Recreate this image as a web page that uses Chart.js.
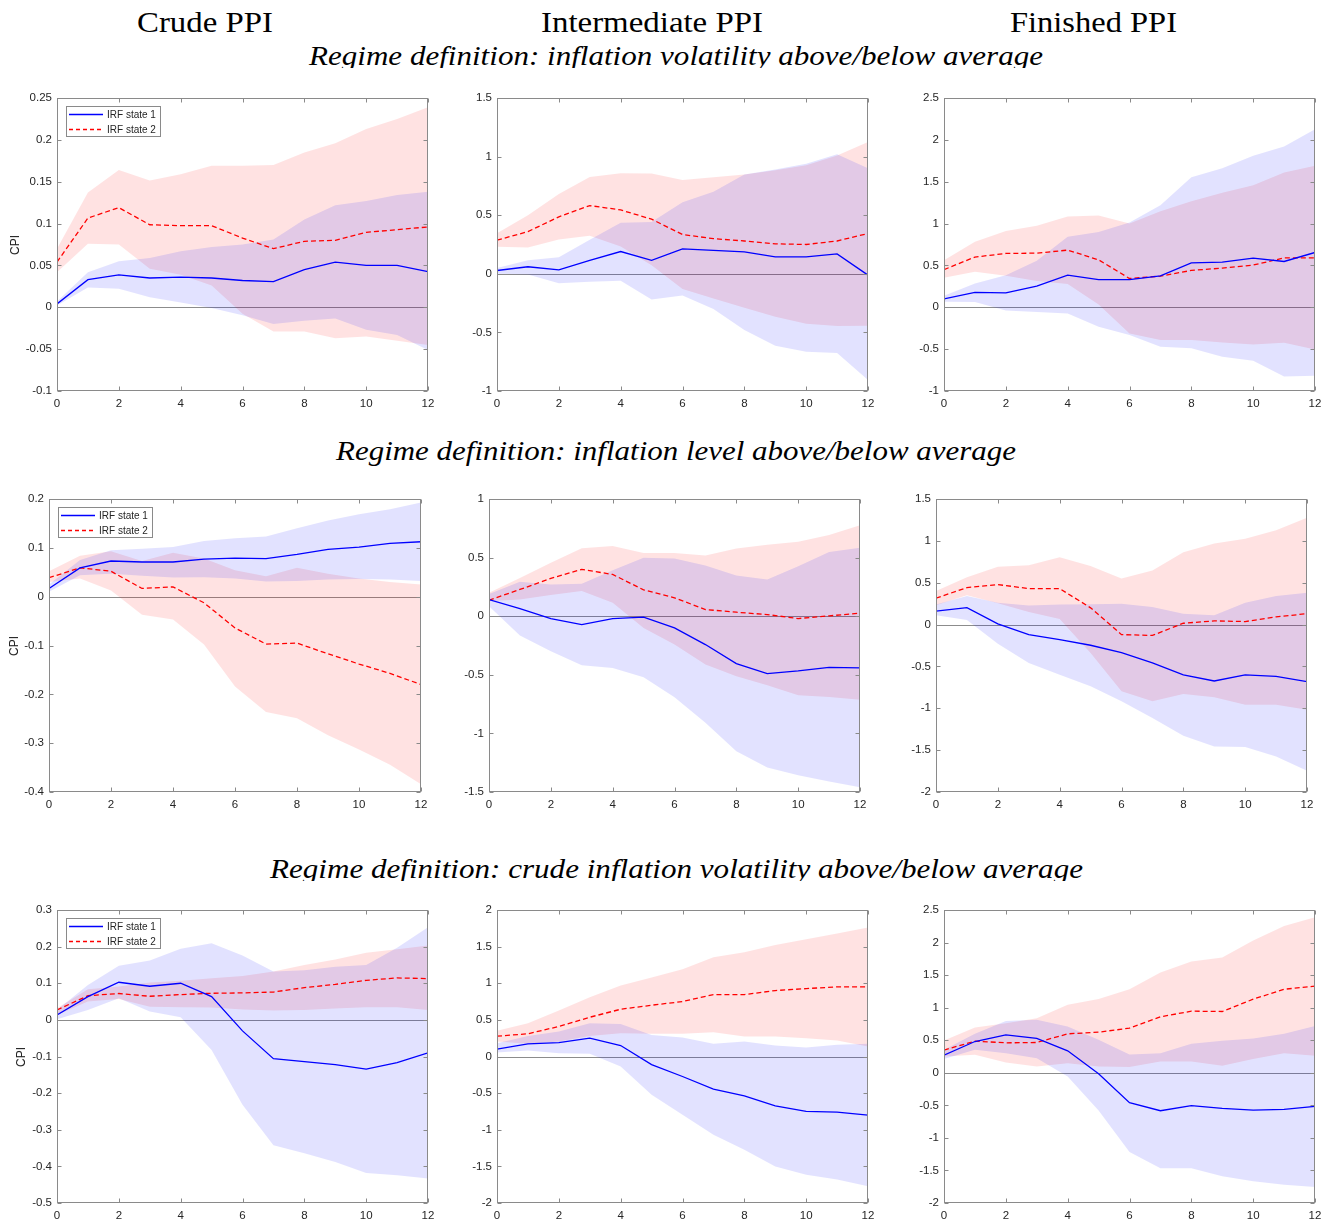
<!DOCTYPE html>
<html><head><meta charset="utf-8">
<script src="https://cdn.jsdelivr.net/npm/chart.js@4/dist/chart.umd.min.js"></script>
<style>
html,body{margin:0;padding:0;background:#fff}
body{width:1332px;height:1220px;position:relative;overflow:hidden}
.txt{position:absolute;white-space:nowrap;font-family:"Liberation Serif","Times New Roman",serif;color:#000;transform-origin:0 0}
.clip{position:absolute;left:0;width:1332px;overflow:hidden}
.ylab{position:absolute;font-family:"Liberation Sans",Arial,sans-serif;font-size:12px;color:#262626;white-space:nowrap;transform:translate(-50%,-50%) rotate(-90deg)}
canvas{position:absolute}
</style></head>
<body>
<script>
// ---------------- DATA ----------------
const horizons = [0,1,2,3,4,5,6,7,8,9,10,11,12];
const xTicks = [0,2,4,6,8,10,12];
const seriesLabels = ['IRF state 1','IRF state 2'];
const columnTitles = ['Crude PPI','Intermediate PPI','Finished PPI'];
const regimeTitles = [
  'Regime definition: inflation volatility above/below average',
  'Regime definition: inflation level above/below average',
  'Regime definition: crude inflation volatility above/below average'
];
const yAxisLabel = 'CPI';

// Row 1: inflation volatility regime
const volCrude_s1   = [0.004,0.033,0.0386,0.035,0.036,0.035,0.032,0.0306,0.045,0.054,0.050,0.050,0.0426];
const volCrude_s1hi = [0.007,0.042,0.055,0.059,0.067,0.072,0.075,0.081,0.105,0.122,0.127,0.134,0.138];
const volCrude_s1lo = [0.002,0.0235,0.022,0.012,0.0056,-0.001,-0.0095,-0.02,-0.016,-0.0135,-0.0267,-0.033,-0.051];
const volCrude_s2   = [0.054,0.1066,0.119,0.0986,0.0975,0.0975,0.0827,0.070,0.0788,0.080,0.0895,0.0927,0.096];
const volCrude_s2hi = [0.07,0.137,0.164,0.1515,0.159,0.169,0.169,0.17,0.185,0.196,0.213,0.225,0.239];
const volCrude_s2lo = [0.042,0.076,0.075,0.046,0.039,0.026,-0.0076,-0.029,-0.029,-0.037,-0.035,-0.04,-0.045];
const volCrude_yTicks = [-0.1,-0.05,0,0.05,0.1,0.15,0.2,0.25];

const volInter_s1   = [0.028,0.06,0.034,0.114,0.19,0.114,0.213,0.2,0.1875,0.145,0.145,0.17,-0.011];
const volInter_s1hi = [0.05,0.116,0.142,0.29,0.435,0.443,0.61,0.7,0.847,0.89,0.94,1.02,0.9];
const volInter_s1lo = [0.0,-0.006,-0.08,-0.068,-0.06,-0.22,-0.185,-0.3,-0.48,-0.614,-0.665,-0.676,-0.906];
const volInter_s2   = [0.287,0.36,0.486,0.582,0.545,0.466,0.335,0.30,0.28,0.256,0.25,0.28,0.344];
const volInter_s2hi = [0.347,0.5,0.68,0.827,0.858,0.855,0.8,0.824,0.847,0.884,0.926,1.01,1.125];
const volInter_s2lo = [0.23,0.224,0.293,0.324,0.233,0.074,-0.13,-0.21,-0.29,-0.366,-0.426,-0.446,-0.443];
const volInter_yTicks = [-1,-0.5,0,0.5,1,1.5];

const volFin_s1   = [0.10,0.177,0.173,0.253,0.384,0.33,0.33,0.376,0.53,0.54,0.587,0.547,0.655];
const volFin_s1hi = [0.137,0.285,0.384,0.555,0.842,0.90,1.013,1.22,1.553,1.66,1.81,1.92,2.126];
const volFin_s1lo = [0.066,0.062,-0.037,-0.057,-0.073,-0.232,-0.33,-0.47,-0.49,-0.59,-0.64,-0.826,-0.818];
const volFin_s2   = [0.45,0.6,0.643,0.647,0.683,0.567,0.344,0.372,0.44,0.468,0.504,0.59,0.59];
const volFin_s2hi = [0.563,0.782,0.91,0.973,1.085,1.097,1.0,1.148,1.267,1.367,1.458,1.61,1.69];
const volFin_s2lo = [0.353,0.424,0.376,0.313,0.277,0.034,-0.312,-0.39,-0.39,-0.42,-0.444,-0.424,-0.503];
const volFin_yTicks = [-1,-0.5,0,0.5,1,1.5,2,2.5];

// Row 2: inflation level regime
const lvlCrude_s1   = [0.0168,0.059,0.073,0.071,0.071,0.077,0.079,0.078,0.0866,0.097,0.1015,0.109,0.1125];
const lvlCrude_s1hi = [0.025,0.075,0.095,0.098,0.1015,0.114,0.1195,0.123,0.14,0.156,0.169,0.179,0.193];
const lvlCrude_s1lo = [0.01,0.044,0.047,0.043,0.039,0.040,0.037,0.031,0.032,0.035,0.036,0.035,0.032];
const lvlCrude_s2   = [0.0388,0.059,0.052,0.0168,0.02,-0.0125,-0.064,-0.097,-0.095,-0.117,-0.138,-0.157,-0.18];
const lvlCrude_s2hi = [0.052,0.084,0.093,0.073,0.09,0.078,0.054,0.042,0.059,0.047,0.037,0.03,0.025];
const lvlCrude_s2lo = [0.03,0.037,0.0128,-0.037,-0.047,-0.098,-0.184,-0.236,-0.249,-0.284,-0.313,-0.344,-0.384];
const lvlCrude_yTicks = [-0.4,-0.3,-0.2,-0.1,0,0.1,0.2];

const lvlInter_s1   = [0.142,0.065,-0.02,-0.071,-0.02,-0.0085,-0.1,-0.242,-0.404,-0.49,-0.467,-0.436,-0.441];
const lvlInter_s1hi = [0.19,0.293,0.27,0.276,0.393,0.498,0.493,0.433,0.347,0.313,0.427,0.547,0.584];
const lvlInter_s1lo = [0.085,-0.165,-0.3,-0.419,-0.441,-0.521,-0.692,-0.91,-1.153,-1.29,-1.358,-1.41,-1.46];
const lvlInter_s2   = [0.137,0.228,0.322,0.4,0.356,0.225,0.157,0.057,0.034,0.014,-0.02,0.003,0.026];
const lvlInter_s2hi = [0.2,0.327,0.455,0.58,0.598,0.54,0.54,0.518,0.578,0.609,0.635,0.692,0.777];
const lvlInter_s2lo = [0.128,0.142,0.18,0.214,0.114,-0.1,-0.242,-0.413,-0.512,-0.589,-0.675,-0.689,-0.712];
const lvlInter_yTicks = [-1.5,-1,-0.5,0,0.5,1];

const lvlFin_s1   = [0.16,0.203,0.008,-0.12,-0.18,-0.247,-0.335,-0.458,-0.602,-0.674,-0.602,-0.618,-0.682];
const lvlFin_s1hi = [0.24,0.34,0.26,0.227,0.24,0.243,0.25,0.21,0.128,0.112,0.26,0.34,0.38];
const lvlFin_s1lo = [0.112,0.056,-0.23,-0.458,-0.598,-0.737,-0.917,-1.116,-1.327,-1.455,-1.463,-1.575,-1.745];
const lvlFin_s2   = [0.315,0.442,0.478,0.43,0.43,0.2,-0.12,-0.13,0.016,0.044,0.036,0.092,0.13];
const lvlFin_s2hi = [0.4,0.566,0.69,0.71,0.805,0.70,0.55,0.645,0.865,0.968,1.024,1.128,1.275];
const lvlFin_s2lo = [0.23,0.35,0.255,0.15,0.068,-0.34,-0.797,-0.917,-0.83,-0.869,-0.957,-0.957,-1.016];
const lvlFin_yTicks = [-2,-1.5,-1,-0.5,0,0.5,1,1.5];

// Row 3: crude inflation volatility regime
const cvCrude_s1   = [0.0136,0.0636,0.1027,0.0918,0.1,0.0636,-0.03,-0.106,-0.114,-0.122,-0.1345,-0.117,-0.09];
const cvCrude_s1hi = [0.027,0.095,0.148,0.162,0.194,0.209,0.176,0.132,0.1355,0.145,0.15,0.197,0.2527];
const cvCrude_s1lo = [0.002,0.027,0.059,0.023,0.007,-0.082,-0.232,-0.342,-0.364,-0.388,-0.418,-0.4245,-0.433];
const cvCrude_s2   = [0.027,0.066,0.072,0.0645,0.069,0.0727,0.0736,0.076,0.088,0.097,0.108,0.1145,0.1127];
const cvCrude_s2hi = [0.032,0.0836,0.091,0.102,0.107,0.1136,0.12,0.132,0.15,0.165,0.1836,0.193,0.203];
const cvCrude_s2lo = [0.0136,0.05,0.057,0.036,0.0345,0.0336,0.028,0.0255,0.027,0.031,0.0345,0.0345,0.027];
const cvCrude_yTicks = [-0.5,-0.4,-0.3,-0.2,-0.1,0,0.1,0.2,0.3];

const cvInter_s1   = [0.1,0.173,0.19,0.25,0.15,-0.11,-0.273,-0.445,-0.536,-0.673,-0.75,-0.76,-0.8];
const cvInter_s1hi = [0.18,0.28,0.34,0.455,0.445,0.295,0.26,0.173,0.205,0.15,0.123,0.16,0.173];
const cvInter_s1lo = [0.055,0.082,0.045,0.036,-0.136,-0.523,-0.795,-1.068,-1.273,-1.5,-1.614,-1.68,-1.773];
const cvInter_s2   = [0.277,0.31,0.41,0.536,0.645,0.7,0.75,0.845,0.845,0.9,0.927,0.95,0.95];
const cvInter_s2hi = [0.35,0.455,0.627,0.81,0.968,1.077,1.19,1.355,1.423,1.523,1.6,1.68,1.76];
const cvInter_s2lo = [0.205,0.173,0.205,0.28,0.318,0.31,0.31,0.332,0.273,0.273,0.25,0.218,0.136];
const cvInter_yTicks = [-2,-1.5,-1,-0.5,0,0.5,1,1.5,2];

const cvFin_s1   = [0.271,0.48,0.583,0.527,0.337,-0.015,-0.46,-0.583,-0.506,-0.547,-0.573,-0.562,-0.516];
const cvFin_s1hi = [0.353,0.598,0.797,0.813,0.71,0.506,0.281,0.30,0.445,0.49,0.527,0.598,0.72];
const cvFin_s1lo = [0.21,0.353,0.30,0.225,-0.056,-0.578,-1.217,-1.467,-1.467,-1.59,-1.666,-1.718,-1.753];
const cvFin_s2   = [0.348,0.486,0.46,0.465,0.598,0.624,0.685,0.859,0.946,0.941,1.13,1.283,1.33];
const cvFin_s2hi = [0.496,0.695,0.762,0.838,1.043,1.135,1.283,1.539,1.708,1.769,2.03,2.255,2.388];
const cvFin_s2lo = [0.25,0.276,0.158,0.097,0.148,0.097,0.087,0.174,0.174,0.107,0.21,0.30,0.26];
const cvFin_yTicks = [-2,-1.5,-1,-0.5,0,0.5,1,1.5,2,2.5];

// ---------------- PANELS (data refs) ----------------
const panels = [
  {s1:volCrude_s1,s1hi:volCrude_s1hi,s1lo:volCrude_s1lo,s2:volCrude_s2,s2hi:volCrude_s2hi,s2lo:volCrude_s2lo,yt:volCrude_yTicks,legend:true,ylabel:true},
  {s1:volInter_s1,s1hi:volInter_s1hi,s1lo:volInter_s1lo,s2:volInter_s2,s2hi:volInter_s2hi,s2lo:volInter_s2lo,yt:volInter_yTicks},
  {s1:volFin_s1,s1hi:volFin_s1hi,s1lo:volFin_s1lo,s2:volFin_s2,s2hi:volFin_s2hi,s2lo:volFin_s2lo,yt:volFin_yTicks},
  {s1:lvlCrude_s1,s1hi:lvlCrude_s1hi,s1lo:lvlCrude_s1lo,s2:lvlCrude_s2,s2hi:lvlCrude_s2hi,s2lo:lvlCrude_s2lo,yt:lvlCrude_yTicks,legend:true,ylabel:true},
  {s1:lvlInter_s1,s1hi:lvlInter_s1hi,s1lo:lvlInter_s1lo,s2:lvlInter_s2,s2hi:lvlInter_s2hi,s2lo:lvlInter_s2lo,yt:lvlInter_yTicks},
  {s1:lvlFin_s1,s1hi:lvlFin_s1hi,s1lo:lvlFin_s1lo,s2:lvlFin_s2,s2hi:lvlFin_s2hi,s2lo:lvlFin_s2lo,yt:lvlFin_yTicks},
  {s1:cvCrude_s1,s1hi:cvCrude_s1hi,s1lo:cvCrude_s1lo,s2:cvCrude_s2,s2hi:cvCrude_s2hi,s2lo:cvCrude_s2lo,yt:cvCrude_yTicks,legend:true,ylabel:true},
  {s1:cvInter_s1,s1hi:cvInter_s1hi,s1lo:cvInter_s1lo,s2:cvInter_s2,s2hi:cvInter_s2hi,s2lo:cvInter_s2lo,yt:cvInter_yTicks},
  {s1:cvFin_s1,s1hi:cvFin_s1hi,s1lo:cvFin_s1lo,s2:cvFin_s2,s2hi:cvFin_s2hi,s2lo:cvFin_s2lo,yt:cvFin_yTicks}
];

// ---------------- LAYOUT (positions / styles) ----------------
const boxes = [
  {L:57,T:98,R:428,B:391,cpiX:15},
  {L:497,T:98,R:868,B:391},
  {L:944,T:98,R:1315,B:391},
  {L:49,T:499,R:421,B:792,cpiX:14},
  {L:489,T:499,R:860,B:792},
  {L:936,T:499,R:1307,B:792},
  {L:57,T:910,R:428,B:1203,cpiX:21},
  {L:497,T:910,R:868,B:1203},
  {L:944,T:910,R:1315,B:1203}
];
const colTitlePos = [{cx:205,w:136},{cx:652,w:222},{cx:1093.5,w:167}];
const rowTitlePos = [{cx:676,w:734,base:66,clip:68},{cx:676,w:680,base:461,clip:null},{cx:676.5,w:813,base:879,clip:881}];

const BLUE='#0000ff', RED='#ff0000';
const BLUE_FILL='rgba(0,0,255,0.115)', RED_FILL='rgba(255,0,0,0.115)';
const FRAME='#8a8a8a', TICKTXT='#262626', ZERO='#8c8c8c';
const SANS='"Liberation Sans", Arial, sans-serif';

function placeText(str, cx, base, fs, italic, targetW, clipBottom){
  const d=document.createElement('div');
  d.className='txt'; d.textContent=str;
  d.style.fontSize=fs+'px'; d.style.lineHeight=fs+'px';
  if(italic) d.style.fontStyle='italic';
  let host=document.body, offY=0;
  if(clipBottom!=null){
    const c=document.createElement('div'); c.className='clip';
    const topC=base-fs*1.2; c.style.top=topC+'px'; c.style.height=(clipBottom-topC)+'px';
    document.body.appendChild(c); host=c; offY=topC;
  }
  host.appendChild(d);
  const w0=d.getBoundingClientRect().width;
  d.style.transform='scaleX('+(targetW/w0)+')';
  d.style.left=(cx-targetW/2)+'px';
  d.style.top=(base-0.8375*fs-offY)+'px';
}

columnTitles.forEach((t,i)=>placeText(t,colTitlePos[i].cx,32,29,false,colTitlePos[i].w,null));
regimeTitles.forEach((t,i)=>placeText(t,rowTitlePos[i].cx,rowTitlePos[i].base,27,true,rowTitlePos[i].w,rowTitlePos[i].clip));

const fmt = v => String(parseFloat(Number(v).toFixed(4)));
const pts = arr => horizons.map((h,i)=>({x:h,y:arr[i]}));

const framePlugin = {
  id:'frame',
  beforeDatasetsDraw(chart){
    const {ctx,chartArea:a,scales:{y}}=chart;
    const yz=Math.round(y.getPixelForValue(0))+0.5;
    ctx.save(); ctx.strokeStyle=ZERO; ctx.lineWidth=1;
    ctx.beginPath(); ctx.moveTo(a.left,yz); ctx.lineTo(a.right,yz); ctx.stroke(); ctx.restore();
  },
  afterDraw(chart){
    const {ctx,chartArea:a,scales:{x,y}}=chart;
    const L=a.left+0.5,R=a.right-0.5,T=a.top+0.5,B=a.bottom-0.5, tl=4;
    ctx.save(); ctx.strokeStyle=FRAME; ctx.lineWidth=1;
    ctx.strokeRect(L,T,R-L,B-T);
    ctx.beginPath();
    x.ticks.forEach(t=>{const px=Math.round(x.getPixelForValue(t.value))+0.5;
      ctx.moveTo(px,B); ctx.lineTo(px,B-tl); ctx.moveTo(px,T); ctx.lineTo(px,T+tl);});
    y.ticks.forEach(t=>{const py=Math.round(y.getPixelForValue(t.value))+0.5;
      ctx.moveTo(L,py); ctx.lineTo(L+tl,py); ctx.moveTo(R,py); ctx.lineTo(R-tl,py);});
    ctx.stroke();
    const opts=chart.options.plugins.frame||{};
    if(opts.legend){
      const bx=Math.round(a.left)+9.5, by=Math.round(a.top)+8.5, bw=94, bh=30;
      ctx.fillStyle='#fff'; ctx.fillRect(bx,by,bw,bh);
      ctx.strokeStyle=FRAME; ctx.strokeRect(bx,by,bw,bh);
      const rows=[{c:BLUE,dash:[]},{c:RED,dash:[4,3]}];
      rows.forEach((r,i)=>{
        const yy=by+8+i*15;
        ctx.strokeStyle=r.c; ctx.lineWidth=1.3; ctx.setLineDash(r.dash);
        ctx.beginPath(); ctx.moveTo(bx+2.5,yy); ctx.lineTo(bx+36.5,yy); ctx.stroke();
        ctx.setLineDash([]);
        ctx.fillStyle=TICKTXT; ctx.font='10px '+SANS; ctx.textBaseline='middle'; ctx.textAlign='left';
        ctx.fillText(seriesLabels[i],bx+40.5,yy+0.5);
      });
    }
    ctx.restore();
  }
};

const PADL=50,PADT=12,PADR=16,PADB=28;
panels.forEach((p,i)=>{
  const b=boxes[i];
  const cv=document.createElement('canvas');
  const W=(b.R-b.L)+PADL+PADR, H=(b.B-b.T)+PADT+PADB;
  cv.width=W; cv.height=H;
  cv.style.left=(b.L-PADL)+'px'; cv.style.top=(b.T-PADT)+'px';
  cv.style.width=W+'px'; cv.style.height=H+'px';
  document.body.appendChild(cv);
  if(p.ylabel){
    const d=document.createElement('div'); d.className='ylab'; d.textContent=yAxisLabel;
    d.style.left=b.cpiX+'px'; d.style.top=((b.T+b.B)/2)+'px';
    document.body.appendChild(d);
  }
  const yt=p.yt;
  new Chart(cv,{
    type:'line',
    data:{datasets:[
      {label:seriesLabels[0],data:pts(p.s1),borderColor:BLUE,borderWidth:1.3,pointRadius:0,fill:false,tension:0},
      {label:seriesLabels[1],data:pts(p.s2),borderColor:RED,borderWidth:1.3,borderDash:[5,3],pointRadius:0,fill:false,tension:0},
      {label:'s1 upper',data:pts(p.s1hi),borderColor:'rgba(0,0,0,0)',borderWidth:1,pointRadius:0,backgroundColor:BLUE_FILL,fill:'+1',tension:0},
      {label:'s1 lower',data:pts(p.s1lo),borderColor:'rgba(0,0,0,0)',borderWidth:1,pointRadius:0,fill:false,tension:0},
      {label:'s2 upper',data:pts(p.s2hi),borderColor:'rgba(0,0,0,0)',borderWidth:1,pointRadius:0,backgroundColor:RED_FILL,fill:'+1',tension:0},
      {label:'s2 lower',data:pts(p.s2lo),borderColor:'rgba(0,0,0,0)',borderWidth:1,pointRadius:0,fill:false,tension:0}
    ]},
    options:{
      responsive:false, animation:false, devicePixelRatio:1,
      layout:{padding:{left:0,top:PADT,right:PADR,bottom:0}},
      plugins:{legend:{display:false},tooltip:{enabled:false},frame:{legend:!!p.legend}},
      scales:{
        x:{type:'linear',min:0,max:12,
          afterBuildTicks:s=>{s.ticks=xTicks.map(v=>({value:v}));},
          afterFit:s=>{s.height=PADB;},
          grid:{display:false,drawTicks:false},border:{display:false},
          ticks:{padding:6,autoSkip:false,maxRotation:0,color:TICKTXT,font:{family:SANS,size:11.5},callback:v=>fmt(v)}},
        y:{type:'linear',min:yt[0],max:yt[yt.length-1],
          afterBuildTicks:s=>{s.ticks=yt.map(v=>({value:v}));},
          afterFit:s=>{s.width=PADL;},
          grid:{display:false,drawTicks:false},border:{display:false},
          ticks:{padding:5,autoSkip:false,color:TICKTXT,font:{family:SANS,size:11.5},callback:v=>fmt(v)}}
      }
    },
    plugins:[framePlugin]
  });
});
</script>
</body></html>
